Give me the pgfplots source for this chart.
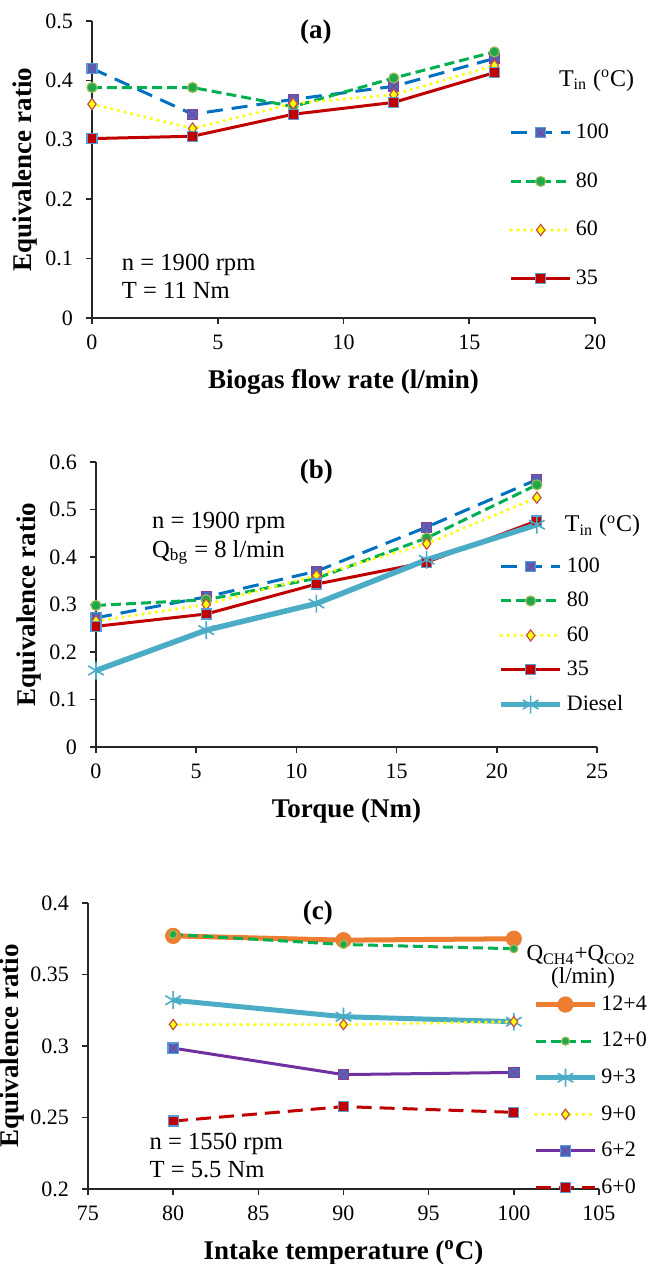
\documentclass[border=0pt]{standalone}
\usepackage{fontspec}
\setmainfont{Liberation Serif}
\usepackage{pgfplots}
\pgfplotsset{compat=1.18}

\definecolor{cblue}{HTML}{0070C0}
\definecolor{mkblue}{HTML}{3F6FC4}
\definecolor{mkedge}{HTML}{5B9BD5}
\definecolor{crossc}{HTML}{8E3C8E}
\definecolor{cgreen}{HTML}{00B050}
\definecolor{gfill}{HTML}{1FA84A}
\definecolor{gedge}{HTML}{9BBB59}
\definecolor{cyel}{HTML}{FFFF00}
\definecolor{dedge}{HTML}{C0504D}
\definecolor{cred}{HTML}{C00000}
\definecolor{cdie}{HTML}{4BACC6}
\definecolor{corange}{HTML}{ED7D31}
\definecolor{cpurple}{HTML}{7030A0}

% square with a cross, Excel style
\pgfdeclareplotmark{sqx}{%
  \pgfpathrectangle{\pgfqpoint{-\pgfplotmarksize}{-\pgfplotmarksize}}{\pgfqpoint{2\pgfplotmarksize}{2\pgfplotmarksize}}%
  \pgfusepathqfillstroke
  \pgfsetstrokecolor{crossc}\pgfsetlinewidth{0.5pt}%
  \pgfpathmoveto{\pgfqpoint{-0.8\pgfplotmarksize}{-0.8\pgfplotmarksize}}%
  \pgfpathlineto{\pgfqpoint{0.8\pgfplotmarksize}{0.8\pgfplotmarksize}}%
  \pgfpathmoveto{\pgfqpoint{-0.8\pgfplotmarksize}{0.8\pgfplotmarksize}}%
  \pgfpathlineto{\pgfqpoint{0.8\pgfplotmarksize}{-0.8\pgfplotmarksize}}%
  \pgfusepathqstroke
}

\tikzset{
  ann/.style={font=\fontsize{12.3}{14}\selectfont, anchor=base west},
  ttl/.style={font=\bfseries\fontsize{13.5}{16}\selectfont},
}

\pgfplotsset{
  excel/.style={
    scale only axis, clip=false,
    axis x line*=bottom, axis y line*=left,
    axis line style={-, line width=0.8pt, black!85},
    tick align=outside, major tick length=3pt,
    tick style={line width=0.8pt, black!85},
    tick label style={font=\fontsize{11}{13}\selectfont},
    /pgf/number format/assume math mode=true,
    xticklabel style={yshift=-2pt},
    yticklabel style={xshift=-3pt, /pgf/number format/fixed, /pgf/number format/precision=2},
    every axis y label/.style={at={([xshift=-33.5pt]axis description cs:0,0.5)}, rotate=90, anchor=center,
      font=\bfseries\fontsize{13.5}{16}\selectfont},
    every axis x label/.style={at={([yshift=-32pt]axis description cs:0.5,0)}, anchor=center,
      font=\bfseries\fontsize{13.5}{16}\selectfont},
    legend cell align=left,
    legend image code/.code={\draw[mark repeat=2,mark phase=2,##1] plot coordinates {(0pt,0pt)(14.75pt,0pt)(29.5pt,0pt)};},
    legend style={draw=none, fill=none, inner sep=0pt, font=\fontsize{11}{13}\selectfont},
  },
  s100/.style={color=cblue, line width=1.5pt, dash pattern=on 8pt off 4.5pt, mark=sqx, mark size=2.5pt,
    mark options={solid, line width=0.6pt, draw=mkedge, fill=mkblue}},
  s80/.style={color=cgreen, line width=1.5pt, dash pattern=on 5pt off 2.5pt, mark=*, mark size=2.5pt,
    mark options={solid, line width=0.6pt, draw=gedge, fill=gfill}},
  s60/.style={color=cyel, line width=1.8pt, line cap=round, dash pattern=on 0pt off 3.4pt, mark=diamond*, mark size=2.8pt,
    mark options={solid, line width=0.6pt, draw=dedge, fill=cyel}},
  s35/.style={color=cred, line width=1.5pt, mark=square*, mark size=2.5pt,
    mark options={solid, line width=0.6pt, draw=mkedge, fill=cred}},
  sdie/.style={color=cdie, line width=2.75pt, mark=asterisk, mark size=4.5pt, mark options={solid, line width=0.8pt}},
}

\begin{document}
\begin{tikzpicture}
\useasboundingbox (0,0) rectangle (324pt,632pt);

% ---------------- (a)
\begin{axis}[excel, at={(46pt,473pt)}, anchor=south west,
  width=251.5pt, height=148.5pt,
  xmin=0, xmax=20, ymin=0, ymax=0.5,
  xtick={0,5,...,20}, ytick={0,0.1,...,0.5},
  xlabel={Biogas flow rate (l/min)}, ylabel={Equivalence ratio},
  legend style={at={([yshift=5.8pt]axis cs:16.58,0.3145)}, anchor=north west, row sep=11.5pt},
]
\addplot[s100] coordinates {(0,0.420) (4,0.343) (8,0.368) (12,0.390) (16,0.437)};
\addlegendentry{100}
\addplot[s80] coordinates {(0,0.388) (4,0.388) (8,0.356) (12,0.404) (16,0.448)};
\addlegendentry{80}
\addplot[s60] coordinates {(0,0.360) (4,0.319) (8,0.361) (12,0.376) (16,0.425)};
\addlegendentry{60}
\addplot[s35] coordinates {(0,0.302) (4,0.306) (8,0.343) (12,0.363) (16,0.413)};
\addlegendentry{35}
\node[ttl] at (axis cs:8.9,0.481) {(a)};
\node[ann] at (axis cs:0.91,0.080) {n = 1900 rpm};
\node[ann] at (axis cs:0.91,0.033) {T = 11 Nm};
\node[anchor=west, font=\fontsize{12}{14}\selectfont] at (axis cs:18.29,0.400) {T\textsubscript{in} (\textsuperscript{o}C)};
\end{axis}

% ---------------- (b)
\begin{axis}[excel, at={(48pt,258.5pt)}, anchor=south west,
  width=250.5pt, height=142.5pt,
  xmin=0, xmax=25, ymin=0, ymax=0.6,
  xtick={0,5,...,25}, ytick={0,0.1,...,0.6},
  xlabel={Torque (Nm)}, ylabel={Equivalence ratio},
  legend style={at={([yshift=7.3pt]axis cs:20.06,0.377)}, anchor=north west, row sep=4.4pt},
]
\addplot[s100] coordinates {(0,0.272) (5.5,0.316) (11,0.370) (16.5,0.463) (22,0.563)};
\addlegendentry{100}
\addplot[s80] coordinates {(0,0.298) (5.5,0.310) (11,0.355) (16.5,0.440) (22,0.552)};
\addlegendentry{80}
\addplot[s60] coordinates {(0,0.265) (5.5,0.300) (11,0.361) (16.5,0.428) (22,0.525)};
\addlegendentry{60}
\addplot[s35] coordinates {(0,0.254) (5.5,0.280) (11,0.343) (16.5,0.389) (22,0.476)};
\addlegendentry{35}
\addplot[sdie] coordinates {(0,0.161) (5.5,0.246) (11,0.302) (16.5,0.394) (22,0.468)};
\addlegendentry{Diesel}
\node[ttl] at (axis cs:11.0,0.579) {(b)};
\node[ann] at (axis cs:2.45,0.461) {n = 1900 rpm};
\node[ann] at (axis cs:2.45,0.400) {Q\textsubscript{bg} = 8 l/min};
\node[anchor=west, font=\fontsize{12}{14}\selectfont] at (axis cs:23.05,0.465) {T\textsubscript{in} (\textsuperscript{o}C)};
\end{axis}

% ---------------- (c)
\begin{axis}[excel, at={(44pt,37.5pt)}, anchor=south west,
  width=255.5pt, height=143pt,
  xmin=75, xmax=105, ymin=0.2, ymax=0.4,
  xtick={75,80,...,105}, ytick={0.2,0.25,...,0.41},
  every axis y label/.style={at={([xshift=-37.75pt]axis description cs:0,0.5)}, rotate=90, anchor=center,
    font=\bfseries\fontsize{13.5}{16}\selectfont},
  xlabel={Intake temperature (\textsuperscript{o}C)}, ylabel={Equivalence ratio},
  legend style={at={([yshift=7.3pt]axis cs:101.13,0.3280)}, anchor=north west, row sep=5.5pt},
]
\addplot[color=corange, line width=2.5pt, mark=*, mark size=3.8pt, mark options={solid, line width=0.5pt, fill=corange, draw=corange}]
  coordinates {(80,0.377) (90,0.374) (100,0.375)};
\addlegendentry{12+4}
\addplot[s80, mark size=2pt] coordinates {(80,0.378) (90,0.371) (100,0.368)};
\addlegendentry{12+0}
\addplot[sdie, line width=2.5pt] coordinates {(80,0.332) (90,0.3205) (100,0.317)};
\addlegendentry{9+3}
\addplot[s60, mark size=2.6pt] coordinates {(80,0.315) (90,0.315) (100,0.317)};
\addlegendentry{9+0}
\addplot[color=cpurple, line width=1.5pt, mark=sqx, mark size=2.6pt, mark options={solid, line width=0.6pt, draw=mkedge, fill=mkblue}]
  coordinates {(80,0.2985) (90,0.280) (100,0.2815)};
\addlegendentry{6+2}
\addplot[s35, dash pattern=on 7.5pt off 4pt] coordinates {(80,0.2475) (90,0.2576) (100,0.2536)};
\addlegendentry{6+0}
\node[ttl] at (axis cs:88.5,0.393) {(c)};
\node[ann] at (axis cs:78.2,0.2273) {n = 1550 rpm};
\node[ann] at (axis cs:78.2,0.2077) {T = 5.5 Nm};
\node[font=\fontsize{11.5}{13}\selectfont] at (axis cs:103.95,0.3636) {Q\textsubscript{CH4}+Q\textsubscript{CO2}};
\node[font=\fontsize{11.5}{13}\selectfont] at (axis cs:104.07,0.3476) {(l/min)};
\end{axis}
\end{tikzpicture}
\end{document}
